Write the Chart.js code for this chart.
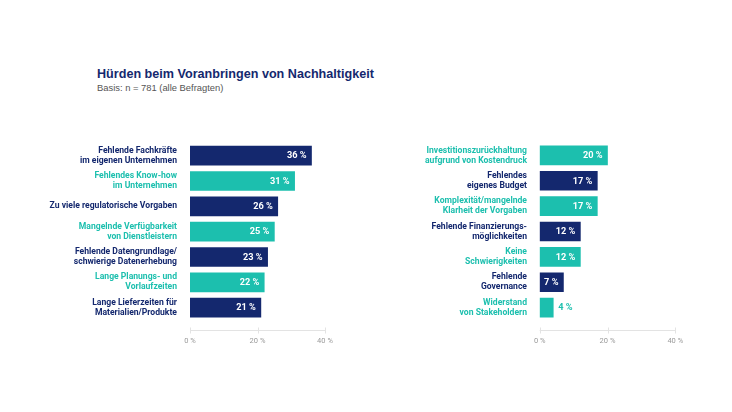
<!DOCTYPE html>
<html>
<head>
<meta charset="utf-8">
<script src="https://cdn.jsdelivr.net/npm/chart.js@4/dist/chart.umd.min.js"></script>
<style>
  html, body { margin: 0; padding: 0; background: #fff; }
  body { width: 732px; height: 412px; position: relative; overflow: hidden; }
  .titel { position: absolute; left: 97px; top: 66.5px; font: bold 12.6px 'Liberation Sans', Arial, sans-serif; color: #14286e; }
  .basis { position: absolute; left: 97px; top: 81.5px; font: 9.4px 'Liberation Sans', Arial, sans-serif; color: #555; }
  canvas { position: absolute; top: 120px; }
  #chart-links  { left: 0; }
  #chart-rechts { left: 366px; }
</style>
</head>
<body>
<div class="titel">Hürden beim Voranbringen von Nachhaltigkeit</div>
<div class="basis">Basis: n = 781 (alle Befragten)</div>
<canvas id="chart-links" width="366" height="240"></canvas>
<canvas id="chart-rechts" width="366" height="240"></canvas>
<script>
// Daten
const labelsLinks = [
  ['Fehlende Fachkräfte', 'im eigenen Unternehmen'],
  ['Fehlendes Know-how', 'im Unternehmen'],
  'Zu viele regulatorische Vorgaben',
  ['Mangelnde Verfügbarkeit', 'von Dienstleistern'],
  ['Fehlende Datengrundlage/', 'schwierige Datenerhebung'],
  ['Lange Planungs- und', 'Vorlaufzeiten'],
  ['Lange Lieferzeiten für', 'Materialien/Produkte'],
];
const werteLinks = [36, 31, 26, 25, 23, 22, 21];

const labelsRechts = [
  ['Investitionszurückhaltung', 'aufgrund von Kostendruck'],
  ['Fehlendes', 'eigenes Budget'],
  ['Komplexität/mangelnde', 'Klarheit der Vorgaben'],
  ['Fehlende Finanzierungs-', 'möglichkeiten'],
  ['Keine', 'Schwierigkeiten'],
  ['Fehlende', 'Governance'],
  ['Widerstand', 'von Stakeholdern'],
];
const werteRechts = [20, 17, 17, 12, 12, 7, 4];

const achsenTicks = [0, 20, 40];

const NAVY = '#14286e';
const TEAL = '#1cbfae';

// Wertbeschriftung an den Balken
const wertPlugin = {
  id: 'wertLabels',
  afterDatasetsDraw(chart) {
    const ctx = chart.ctx;
    const meta = chart.getDatasetMeta(0);
    const farben = chart.data.datasets[0].backgroundColor;
    ctx.save();
    ctx.font = 'bold 9.2px Roboto, sans-serif';
    ctx.textBaseline = 'middle';
    meta.data.forEach((bar, i) => {
      const text = chart.data.datasets[0].data[i] + ' %';
      const breite = bar.x - bar.base;
      if (breite > 20) {
        ctx.fillStyle = '#fff';
        ctx.textAlign = 'right';
        ctx.fillText(text, bar.x - 5, bar.y + 0.5);
      } else {
        ctx.fillStyle = farben[i];
        ctx.textAlign = 'left';
        ctx.fillText(text, bar.x + 5, bar.y + 0.5);
      }
    });
    ctx.restore();
  },
};

// Achsenlinie etwas unterhalb der Balken
const achsePlugin = {
  id: 'achse',
  afterDraw(chart) {
    const x = chart.scales.x;
    const y = Math.round(chart.chartArea.bottom + 10) + 0.5;
    const ctx = chart.ctx;
    ctx.save();
    ctx.strokeStyle = '#e3e3e3';
    ctx.lineWidth = 1;
    ctx.beginPath();
    ctx.moveTo(x.getPixelForValue(0), y);
    ctx.lineTo(x.getPixelForValue(40), y);
    x.ticks.forEach(t => {
      const px = Math.round(x.getPixelForValue(t.value)) + 0.5;
      ctx.moveTo(px, y - 3);
      ctx.lineTo(px, y + 3);
    });
    ctx.stroke();
    ctx.restore();
  },
};

function baueChart(id, labels, werte, farben, yBreite, padRechts, labelPad) {
  return new Chart(document.getElementById(id), {
    type: 'bar',
    data: {
      labels,
      datasets: [{
        data: werte,
        backgroundColor: farben,
        barThickness: 19,
      }],
    },
    options: {
      indexAxis: 'y',
      responsive: false,
      animation: false,
      events: [],
      layout: { padding: { top: 13.7, right: padRechts, bottom: 9.7, left: 0 } },
      plugins: { legend: { display: false }, tooltip: { enabled: false } },
      scales: {
        x: {
          min: 0,
          max: 40,
          afterBuildTicks: s => { s.ticks = achsenTicks.map(v => ({ value: v })); },
          afterFit: s => { s.height = 30; },
          grid: { display: false, drawTicks: false },
          border: { display: false },
          ticks: {
            padding: 16,
            color: '#9a9a9a',
            font: { family: 'Roboto, sans-serif', size: 7.5 },
            callback: v => v + ' %',
          },
        },
        y: {
          afterFit: s => { s.width = yBreite; },
          grid: { display: false, drawTicks: false },
          border: { display: false },
          ticks: {
            padding: labelPad,
            autoSkip: false,
            color: farben,
            font: { family: 'Roboto, sans-serif', size: 8.6, weight: 'bold', lineHeight: 1.16 },
          },
        },
      },
    },
    plugins: [wertPlugin, achsePlugin],
  });
}

const farbenLinks  = werteLinks.map((_, i) => i % 2 === 0 ? NAVY : TEAL);
const farbenRechts = werteRechts.map((_, i) => i % 2 === 0 ? TEAL : NAVY);

baueChart('chart-links',  labelsLinks,  werteLinks,  farbenLinks,  190, 41, 13);
baueChart('chart-rechts', labelsRechts, werteRechts, farbenRechts, 173.7, 56.7, 12.7);
</script>
</body>
</html>
